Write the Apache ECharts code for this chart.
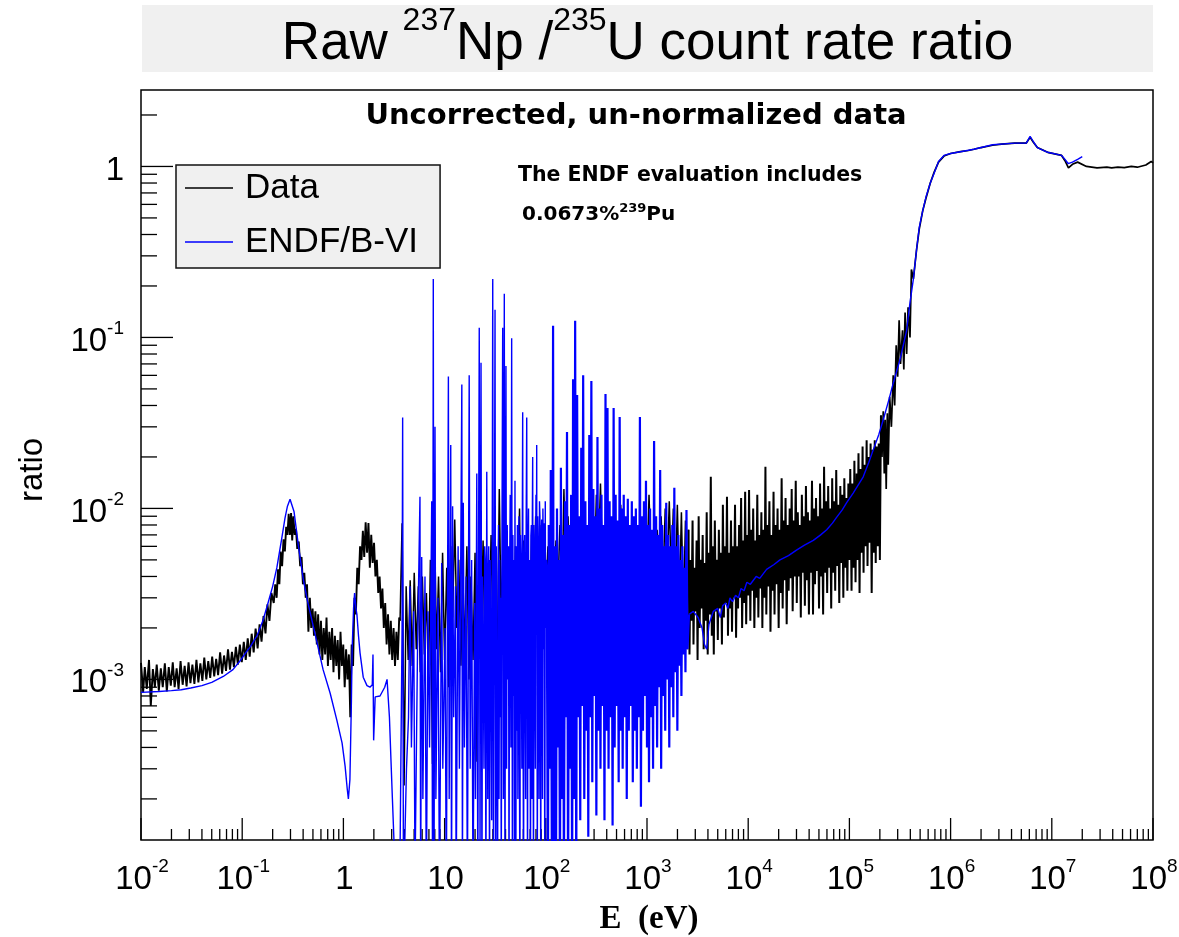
<!DOCTYPE html>
<html><head><meta charset="utf-8">
<script src="https://cdn.jsdelivr.net/npm/echarts@6/dist/echarts.min.js"></script>
<style>html,body{margin:0;padding:0;background:#fff}#c{width:1179px;height:937px}</style>
</head><body><div id="c"></div>
<script>
// ---------------- axis ranges & tick labels ----------------
const X_MIN = 0.01, X_MAX = 1e8, Y_MIN = 1.15e-4, Y_MAX = 2.8;
const xMajorTicks = [1e-2, 1e-1, 1, 10, 100, 1e3, 1e4, 1e5, 1e6, 1e7, 1e8];
const xTickLabels = [['10','-2'],['10','-1'],['1',''],['10',''],['10','2'],['10','3'],['10','4'],['10','5'],['10','6'],['10','7'],['10','8']];
const yMajorTicks = [1e-3, 1e-2, 1e-1, 1];
const yTickLabels = [['10','-3'],['10','-2'],['10','-1'],['1','']];
const minorMantissas = [2,3,4,5,6,7,8,9];

// ---------------- Data (measured ratio) ----------------
const dataThermal = [
[0.0100,1.25e-3],[0.0105,8.4e-4],[0.0109,1.18e-3],[0.0114,8.8e-4],[0.0120,1.30e-3],[0.0125,7.0e-4],[0.0131,1.15e-3],[0.0137,9.0e-4],
[0.0143,1.22e-3],[0.0150,8.6e-4],[0.0157,1.16e-3],[0.0164,9.0e-4],[0.0172,1.24e-3],[0.0180,8.5e-4],[0.0188,1.18e-3],[0.0197,9.2e-4],
[0.0206,1.26e-3],[0.0215,9.0e-4],[0.0225,1.16e-3],[0.0235,8.8e-4],[0.0246,1.28e-3],[0.0258,9.3e-4],[0.0270,1.20e-3],[0.0282,9.1e-4],
[0.0295,1.26e-3],[0.0308,9.5e-4],[0.0322,1.22e-3],[0.0337,9.4e-4],[0.0353,1.30e-3],[0.0369,9.6e-4],[0.0386,1.24e-3],[0.0404,9.8e-4],
[0.0422,1.34e-3],[0.0442,1.00e-3],[0.0462,1.28e-3],[0.0483,1.02e-3],[0.0505,1.36e-3],[0.0529,1.04e-3],[0.0553,1.32e-3],[0.0578,1.06e-3],
[0.0605,1.44e-3],[0.0633,1.08e-3],[0.0662,1.38e-3],[0.0692,1.12e-3],[0.0724,1.50e-3],[0.0757,1.14e-3],[0.0792,1.45e-3],[0.0828,1.18e-3],
[0.0866,1.55e-3],[0.0906,1.22e-3],[0.0948,1.60e-3],[0.0991,1.26e-3],[0.1037,1.66e-3],[0.1084,1.30e-3],[0.1134,1.74e-3],[0.1186,1.36e-3],
[0.1241,1.85e-3],[0.1298,1.44e-3],[0.1357,1.98e-3],[0.1420,1.52e-3],[0.1485,2.10e-3],[0.1553,1.66e-3],[0.1624,2.35e-3],[0.1699,1.86e-3],
[0.1777,2.75e-3],[0.1859,2.20e-3],[0.1944,3.20e-3],[0.205,2.8e-3],[0.212,3.6e-3],[0.219,3.0e-3],[0.226,4.4e-3],[0.233,3.6e-3],
[0.240,5.6e-3],[0.248,4.6e-3],[0.256,6.6e-3],[0.264,5.6e-3],[0.272,7.8e-3],[0.280,7.0e-3],[0.288,9.3e-3],[0.296,7.0e-3],
[0.304,9.4e-3],[0.312,6.5e-3],[0.320,9.0e-3],[0.330,7.0e-3],[0.340,7.6e-3],[0.350,5.8e-3],[0.362,6.4e-3],[0.374,4.6e-3],
[0.386,5.2e-3],[0.398,3.6e-3],[0.411,4.2e-3],[0.424,3.0e-3],[0.437,3.6e-3],[0.451,1.9e-3],[0.466,3.0e-3],[0.481,2.0e-3],
[0.496,2.6e-3],[0.512,1.8e-3],[0.529,2.5e-3],[0.546,1.6e-3],[0.563,2.4e-3],[0.581,1.4e-3],[0.600,2.2e-3],[0.619,1.3e-3],
[0.639,2.0e-3],[0.660,1.4e-3],[0.681,2.3e-3],[0.703,1.2e-3],[0.726,1.9e-3],[0.749,1.3e-3],[0.773,2.0e-3],[0.798,1.1e-3],
[0.824,1.8e-3],[0.851,1.2e-3],[0.878,1.7e-3],[0.907,1.0e-3],[0.936,1.9e-3],[0.966,1.2e-3],[0.997,1.6e-3],[1.030,9.0e-4],
[1.063,1.5e-3],[1.097,1.0e-3],[1.133,1.4e-3],[1.169,6.0e-4],[1.207,1.6e-3],[1.246,1.2e-3],[1.286,3.0e-3],[1.328,2.4e-3],
[1.371,4.5e-3],[1.415,3.6e-3],[1.461,6.0e-3],[1.508,5.0e-3],[1.557,7.4e-3],[1.607,5.2e-3],[1.659,8.3e-3],[1.713,5.5e-3],
[1.768,8.2e-3],[1.825,4.5e-3],[1.884,7.0e-3],[1.945,4.8e-3],[2.008,6.3e-3],[2.073,4.0e-3],[2.140,5.0e-3],[2.209,3.2e-3],
[2.280,4.0e-3],[2.354,2.6e-3],[2.430,3.4e-3],[2.508,2.0e-3],[2.589,2.8e-3],[2.673,1.6e-3],[2.760,2.4e-3],[2.849,1.4e-3],
[2.941,2.2e-3],[3.036,1.3e-3],[3.134,2.0e-3],[3.235,1.2e-3],[3.340,1.9e-3],[3.448,1.3e-3],[3.559,2.3e-3]
];
const dataResonance = [
[3.63,2.2e-3],[3.80,8.2e-3],[3.98,2.4e-4],[4.17,3.5e-3],[4.37,1.3e-3],[4.57,3.8e-3],[4.79,1.2e-3],[5.01,4.2e-3],
[5.25,1.5e-3],[5.50,3.5e-3],[5.75,1.1e-3],[6.03,4.0e-3],[6.31,1.4e-3],[6.61,3.2e-3],[6.92,1.0e-3],[7.24,5.0e-3],
[7.59,3.2e-4],[7.94,8.6e-3],[8.32,1.5e-3],[8.71,4.0e-3],[9.12,1.1e-3],[9.55,5.5e-3],[10.0,1.3e-3],[10.5,4.5e-3],
[11.0,9.0e-4],[11.5,6.0e-3],[12.0,2.3e-3],[12.6,8.6e-3],[13.2,2.0e-3],[13.8,5.0e-3],[14.5,1.2e-3],[15.1,4.5e-3],
[15.8,1.4e-3],[16.6,6.0e-3],[17.4,1.0e-3],[18.2,4.0e-3],[19.1,1.3e-3],[20.0,5.5e-3],[20.9,3.3e-4],[21.9,4.0e-3],
[22.9,1.5e-3],[24.0,6.5e-3],[25.1,1.2e-3],[26.3,4.5e-3],[27.5,1.8e-3],[28.8,7.0e-3],[30.2,1.5e-3],[31.6,5.5e-3],
[33.1,1.1e-3],[34.7,1.3e-2],[36.3,2.0e-3],[38.0,8.0e-3],[39.8,1.6e-3],[41.7,6.0e-3],[43.7,2.0e-3],[45.7,7.5e-3],
[47.9,1.4e-3],[50.1,6.0e-3],[52.5,2.2e-3],[55.0,1.0e-2],[57.5,1.0e-3],[60.3,6.5e-3],[63.1,2.5e-3],[66.1,8.0e-3],
[69.2,2.0e-3],[72.4,7.0e-3],[75.9,2.8e-3],[79.4,9.0e-3],[83.2,2.5e-3],[87.1,8.0e-3],[91.2,3.0e-3],[95.5,7.5e-3],
[100,3.0e-3],[105,6.0e-3],[110,2.5e-3],[115,7.0e-3],[120,3.0e-3],[126,6.5e-3],[132,3.5e-3],[138,8.0e-3],
[145,3.0e-3],[151,1.3e-2],[158,4.0e-3],[166,9.0e-3],[174,3.5e-3],[182,7.0e-3],[191,4.0e-3],[200,6.5e-3],
[209,3.0e-3],[219,7.0e-3],[229,4.0e-3],[240,6.5e-3],[251,3.5e-3],[263,7.0e-3],[275,4.5e-3],[288,6.5e-3],
[302,4.0e-3],[316,1.2e-2],[331,5.0e-3],[347,1.4e-2],[363,4.5e-3],[380,7.0e-3],[398,5.0e-3],[417,6.5e-3],
[437,4.0e-3],[457,7.0e-3],[479,4.5e-3],[501,6.5e-3],[525,5.0e-3],[550,1.05e-2],[575,5.0e-3],[603,7.0e-3],
[631,4.0e-3],[661,6.5e-3],[692,5.0e-3],[724,7.0e-3],[759,4.5e-3],[794,6.5e-3],[832,4.0e-3],[871,7.0e-3],
[912,5.0e-3],[955,8.0e-3],[1000,4.4e-3],[1047,1.2e-2],[1096,5.0e-3],[1148,7.0e-3],[1202,4.0e-3],[1259,7.5e-3],
[1318,5.0e-3],[1380,9.0e-3],[1445,4.0e-3],[1514,1.0e-2],[1585,4.5e-3],[1660,1.1e-2],[1738,4.0e-3],[1820,1.0e-2],
[1905,3.5e-3],[1995,1.05e-2],[2089,3.0e-3],[2188,9.5e-3],[2291,2.5e-3],[2399,8.5e-3],[2512,1.5e-3]
];
const dataKeV = [
[2.57e3,7.5e-3],[2.63e3,1.4e-3],[2.69e3,5.0e-3],[2.75e3,2.2e-3],[2.82e3,8.5e-3],[2.88e3,1.6e-3],[2.95e3,4.5e-3],[3.02e3,2.5e-3],
[3.09e3,6.5e-3],[3.16e3,1.3e-3],[3.24e3,9.0e-3],[3.31e3,2.0e-3],[3.39e3,5.0e-3],[3.47e3,2.6e-3],[3.55e3,7.0e-3],[3.63e3,1.5e-3],
[3.72e3,4.8e-3],[3.80e3,2.2e-3],[3.89e3,9.5e-3],[3.98e3,1.4e-3],[4.07e3,5.5e-3],[4.17e3,2.4e-3],[4.27e3,1.53e-2],[4.37e3,1.8e-3],
[4.47e3,6.0e-3],[4.57e3,1.4e-3],[4.68e3,8.5e-3],[4.79e3,2.5e-3],[4.90e3,5.0e-3],[5.01e3,1.7e-3],[5.13e3,7.5e-3],[5.25e3,2.6e-3],
[5.37e3,5.5e-3],[5.50e3,1.6e-3],[5.62e3,1.05e-2],[5.75e3,2.3e-3],[5.89e3,6.0e-3],[6.03e3,2.8e-3],[6.17e3,1.17e-2],[6.31e3,1.8e-3],
[6.46e3,5.5e-3],[6.61e3,2.6e-3],[6.76e3,8.5e-3],[6.92e3,1.9e-3],[7.08e3,6.0e-3],[7.24e3,3.0e-3],[7.41e3,1.05e-2],[7.59e3,1.75e-3],
[7.76e3,6.0e-3],[7.94e3,2.6e-3],[8.13e3,8.0e-3],[8.32e3,3.0e-3],[8.51e3,1.15e-2],[8.71e3,2.0e-3],[8.91e3,6.5e-3],[9.12e3,2.8e-3],
[9.33e3,1.25e-2],[9.55e3,2.1e-3],[9.77e3,7.0e-3],[1.00e4,3.1e-3],[1.02e4,1.28e-2],[1.05e4,2.2e-3],[1.07e4,7.5e-3],[1.10e4,3.3e-3],
[1.12e4,1.0e-2],[1.15e4,2.0e-3],[1.18e4,6.5e-3],[1.20e4,3.0e-3],[1.23e4,1.2e-2],[1.26e4,2.3e-3],[1.29e4,7.0e-3],[1.32e4,3.4e-3],
[1.35e4,9.5e-3],[1.38e4,2.0e-3],[1.41e4,7.5e-3],[1.45e4,3.0e-3],[1.48e4,1.75e-2],[1.51e4,2.4e-3],[1.55e4,8.0e-3],[1.58e4,3.5e-3],
[1.62e4,1.1e-2],[1.66e4,1.9e-3],[1.70e4,7.0e-3],[1.74e4,3.3e-3],[1.78e4,1.25e-2],[1.82e4,2.4e-3],[1.86e4,8.0e-3],[1.91e4,3.6e-3],
[1.95e4,1.0e-2],[2.00e4,2.0e-3],[2.04e4,7.5e-3],[2.09e4,3.2e-3],[2.14e4,1.5e-2],[2.19e4,2.6e-3],[2.24e4,8.5e-3],[2.29e4,3.8e-3],
[2.34e4,1.15e-2],[2.40e4,2.1e-3],[2.46e4,8.0e-3],[2.51e4,3.3e-3],[2.57e4,1.0e-2],[2.63e4,3.9e-3],[2.69e4,1.3e-2],[2.75e4,2.5e-3],
[2.82e4,8.5e-3],[2.88e4,4.0e-3],[2.95e4,1.45e-2],[3.02e4,2.8e-3],[3.09e4,9.5e-3],[3.16e4,4.0e-3],[3.24e4,8.0e-3],[3.31e4,2.3e-3],
[3.39e4,1.2e-2],[3.47e4,4.2e-3],[3.55e4,9.0e-3],[3.63e4,2.7e-3],[3.72e4,1.35e-2],[3.80e4,3.8e-3],[3.89e4,9.5e-3],[3.98e4,2.4e-3],
[4.07e4,8.5e-3],[4.17e4,4.2e-3],[4.27e4,1.45e-2],[4.37e4,2.4e-3],[4.47e4,1.0e-2],[4.57e4,3.6e-3],[4.68e4,1.15e-2],[4.79e4,4.3e-3],
[4.90e4,9.0e-3],[5.01e4,2.6e-3],[5.13e4,1.4e-2],[5.25e4,4.0e-3],[5.37e4,1.0e-2],[5.50e4,2.4e-3],[5.62e4,1.75e-2],[5.75e4,4.2e-3],
[5.89e4,1.1e-2],[6.03e4,3.2e-3],[6.17e4,1.35e-2],[6.31e4,4.5e-3],[6.46e4,1.0e-2],[6.61e4,2.6e-3],[6.76e4,1.5e-2],[6.92e4,4.2e-3],
[7.08e4,1.1e-2],[7.24e4,3.3e-3],[7.41e4,1.68e-2],[7.59e4,4.6e-3],[7.76e4,1.05e-2],[7.94e4,2.8e-3],[8.13e4,1.35e-2],[8.32e4,4.8e-3],
[8.51e4,1.2e-2],[8.71e4,3.0e-3],[8.91e4,1.5e-2],[9.12e4,4.5e-3],[9.33e4,1.15e-2],[9.55e4,3.3e-3],[9.77e4,1.4e-2],[1.00e5,5.0e-3],
[1.02e5,1.7e-2],[1.05e5,3.3e-3],[1.07e5,1.4e-2],[1.10e5,4.5e-3],[1.12e5,1.9e-2],[1.15e5,3.7e-3],[1.18e5,1.6e-2],[1.20e5,5.0e-3],
[1.23e5,2.1e-2],[1.26e5,3.2e-3],[1.29e5,1.7e-2],[1.32e5,5.5e-3],[1.35e5,2.3e-2],[1.38e5,4.2e-3],[1.41e5,1.8e-2],[1.45e5,6.0e-3],
[1.48e5,2.5e-2],[1.51e5,4.6e-3],[1.55e5,2.0e-2],[1.58e5,6.3e-3],[1.62e5,2.4e-2],[1.66e5,3.2e-3],[1.70e5,2.2e-2],[1.74e5,5.5e-3],
[1.78e5,2.5e-2],[1.82e5,4.8e-3],[1.86e5,2.3e-2],[1.91e5,6.0e-3],[1.95e5,2.4e-2],[2.00e5,5.0e-3]
];
const dataFast = [
[2.05e5,0.035],[2.10e5,0.020],[2.16e5,0.037],[2.21e5,0.016],[2.26e5,0.033],[2.31e5,0.013],[2.37e5,0.036],[2.42e5,0.018],
[2.50e5,0.045],[2.60e5,0.030],[2.71e5,0.060],[2.80e5,0.040],[2.90e5,0.090],[3.00e5,0.059],[3.10e5,0.126],[3.20e5,0.070],
[3.35e5,0.110],[3.45e5,0.065],[3.55e5,0.140],[3.68e5,0.080],[3.80e5,0.150],[3.97e5,0.100],[4.10e5,0.250],[4.29e5,0.220],
[4.62e5,0.33],[4.90e5,0.43],[5.30e5,0.55],[5.70e5,0.65],[6.30e5,0.80],[6.90e5,0.93],[7.60e5,1.06],[8.60e5,1.15],
[1.0e6,1.19],[1.25e6,1.22],[1.5e6,1.24],[1.7e6,1.26],[2.0e6,1.29],[2.6e6,1.33],[3.2e6,1.35],[4.3e6,1.37],
[5.6e6,1.37],[6.1e6,1.48],[6.6e6,1.38],[7.2e6,1.29],[9.1e6,1.21],[1.25e7,1.16],[1.35e7,1.08],[1.46e7,0.98],
[1.6e7,1.03],[1.8e7,1.06],[2.2e7,1.00],[2.8e7,0.98],[3.5e7,0.99],[3.9e7,0.98],[4.5e7,0.99],[5.2e7,0.985],
[6.1e7,1.00],[7.0e7,0.99],[8.5e7,1.02],[9.6e7,1.07],[1.0e8,1.05]
];

// ---------------- ENDF/B-VI ----------------
const endfThermal = [
[0.0100,8.4e-4],[0.0150,8.5e-4],[0.0200,8.6e-4],[0.0250,8.7e-4],[0.0310,8.9e-4],[0.0400,9.2e-4],[0.0500,9.6e-4],[0.0650,1.04e-3],
[0.0810,1.14e-3],[0.0950,1.28e-3],[0.1100,1.45e-3],[0.1200,1.55e-3],[0.1400,1.80e-3],[0.1600,2.2e-3],[0.1800,2.8e-3],[0.2000,3.5e-3],
[0.2200,4.5e-3],[0.2450,6.6e-3],[0.2650,8.8e-3],[0.2800,1.03e-2],[0.2970,1.13e-2],[0.3100,1.10e-2],[0.3250,9.6e-3],[0.3400,7.8e-3],
[0.3600,6.0e-3],[0.4000,3.9e-3],[0.4400,2.9e-3],[0.4700,2.45e-3],[0.5500,1.63e-3],[0.6300,1.14e-3],[0.7400,8.3e-4],[0.8600,5.8e-4],
[0.9700,4.25e-4],[1.0400,3.1e-4],[1.0900,2.3e-4],[1.1200,2.0e-4],[1.1600,2.6e-4],[1.2000,7.5e-4],[1.2200,1.5e-3],[1.2600,2.6e-3],
[1.2900,3.2e-3],[1.3300,2.6e-3],[1.3600,2.4e-3],[1.4100,1.8e-3],[1.4600,1.43e-3],[1.5700,1.03e-3],[1.7100,9.2e-4],[1.8300,9.0e-4],
[1.9300,9.3e-4],[1.9600,1.4e-3],[1.9900,4.4e-4],[2.0600,7.9e-4],[2.3000,8.0e-4],[2.5600,9.0e-4],[2.7000,1.0e-3],[2.8500,6.0e-4],
[2.9500,3.4e-4],[3.0500,2.0e-4],[3.1500,1.2e-4],[3.2500,6e-5]
];
const endfForest = [
[3.62,8e-5],[3.80,2e-3],[3.85,0.034],[3.92,5e-5],[4.20,3e-4],[4.40,6e-4],[4.55,3.5e-3],[4.70,4e-4],
[4.95,2.5e-3],[5.10,7e-5],[5.40,1.5e-3],[5.71,0.0117],[5.80,5e-5],[5.94,5.2e-3],[6.10,2e-4],[6.40,4e-3],
[6.60,5e-5],[6.85,2.5e-3],[7.10,4e-4],[7.46,0.011],[7.60,5e-5],[7.73,0.22],[7.85,4e-5],[8.04,0.030],
[8.20,2e-4],[8.60,3e-3],[8.90,5e-5],[9.36,4.8e-3],[9.60,3e-4],[10.1,2e-3],[10.4,5e-5],[10.9,0.059],
[11.1,2e-4],[11.5,0.0235],[11.7,5e-5],[12.0,0.0103],[12.3,6e-4],[12.8,3.5e-3],[13.0,5e-5],[13.6,6e-3],
[14.0,3e-4],[14.8,0.053],[15.0,5e-5],[15.3,0.0108],[15.7,4e-4],[16.3,4e-3],[16.8,5e-5],[17.5,0.06],
[17.9,3e-4],[18.5,5e-3],[19.1,5e-5],[19.8,2.8e-3],[20.2,2e-4],[20.8,0.016],[21.3,5e-5],[21.6,3e-3],
[22.0,0.114],[22.4,1e-4],[22.9,0.071],[23.4,5e-5],[23.7,4e-3],[24.0,2e-3],[24.5,3e-4],[24.9,6e-3],
[25.2,5e-3],[25.6,5e-5],[26.1,0.0164],[26.7,2e-4],[27.0,4e-3],[27.3,6e-3],[27.8,5e-5],[28.2,5e-3],
[28.5,3e-3],[29.2,1.5e-4],[29.9,0.22],[30.4,5e-5],[31.0,3e-3],[31.5,0.145],[32.0,1e-4],[32.4,6e-3],
[32.8,8e-4],[33.4,5e-5],[33.8,4e-3],[34.1,8e-3],[34.5,2e-4],[35.0,5e-3],[35.5,6e-4],[35.9,3e-3],
[36.3,5e-5],[36.9,7e-3],[37.5,0.114],[38.1,2e-4],[38.5,4e-3],[38.9,0.18],[39.5,5e-5],[40.0,5e-3],
[40.4,0.068],[41.0,3e-4],[41.6,8e-3],[42.2,1e-3],[42.8,6e-3],[43.3,5e-5],[43.9,4e-3],[44.5,0.012],
[45.2,4e-4],[45.6,6e-3],[46.0,0.099],[46.8,5e-5],[47.3,7e-3],[47.8,8e-4],[48.5,5e-3],[49.0,1e-4],
[49.6,0.0145],[50.1,3e-4],[50.6,5e-5],[51.2,6e-3],[51.8,5e-4],[52.4,8e-3],[53.0,2e-4],[53.6,5e-3],
[54.3,9e-3],[54.9,3e-4],[55.5,5e-5],[56.2,7e-3],[57.0,4.5e-3],[57.5,1e-3],[58.0,3e-4],[58.5,6e-3],
[59.1,0.0365],[59.7,4e-4],[60.3,5e-5],[61.0,5e-3],[61.8,7e-3],[62.5,6e-4],[63.2,2e-4],[64.0,9e-3],
[64.8,0.034],[65.4,1e-3],[66.0,5e-5],[66.7,6e-3],[67.5,1e-2],[68.0,8e-4],[68.4,3e-4],[69.3,5e-3],
[69.9,1.2e-3],[70.6,5e-5],[71.3,7e-3],[72.0,8e-3],[72.5,5e-4],[73.0,2e-4],[73.6,9e-3],[74.2,0.02],
[74.9,6e-4],[75.6,5e-5],[76.4,8e-3],[77.2,6e-3],[78.0,1e-3],[78.8,3e-4],[79.4,7e-3],[80.0,1.2e-2],
[80.6,2e-3],[81.3,0.0235],[81.9,8e-4],[82.5,5e-5],[83.2,9e-3],[84.0,6e-3],[84.8,1.5e-3],[85.7,2e-4],
[86.6,1.1e-2],[87.5,9e-3],[88.3,1e-3],[89.2,5e-5],[90.1,7e-3],[91.1,8.6e-3],[91.9,1.2e-3],[92.8,2e-4],
[93.6,1.0e-2],[94.5,6e-3],[95.2,1.5e-3],[96.0,8.2e-3],[96.9,6e-4],[97.8,5e-5],[98.8,1.1e-2],[99.6,2e-3],
[100.5,5e-3]
];
const endfMass = [
[102,4.5e-3],[105,5e-5],[107,8e-3],[110,3e-4],[112,0.0168],[115,5e-5],[118,0.117],[120,1e-4],
[123,6e-3],[126,5e-5],[129,1.0e-2],[132,4e-4],[135,5e-3],[138,5e-5],[141,0.0173],[145,2e-4],
[148,7e-3],[151,5e-5],[155,1.1e-2],[158,6e-4],[162,0.028],[166,5e-5],[170,8e-3],[174,3e-4],
[178,1.2e-2],[182,5e-5],[186,0.057],[191,2e-4],[195,0.125],[200,5e-5],[204,0.046],[209,6e-4],
[214,9e-3],[219,1.5e-4],[224,0.0226],[229,7e-4],[234,0.060],[240,2e-4],[246,1.1e-2],[251,5e-4],
[257,8e-3],[263,1.2e-4],[269,0.0269],[275,6e-4],[282,0.0557],[288,2.5e-4],[295,1.3e-2],[302,8e-4],
[309,9e-3],[316,1.6e-4],[324,0.0262],[331,5e-4],[339,1.0e-2],[347,3e-4],[355,1.2e-2],[363,7e-4],
[372,8e-3],[380,1.5e-4],[389,0.0467],[398,5e-4],[407,0.0387],[417,3e-4],[427,1.1e-2],[437,6e-4],
[447,9e-3],[457,1.4e-4],[468,0.0387],[479,4e-4],[490,1.2e-2],[501,7e-4],[513,8.5e-3],[525,2.5e-4],
[537,0.0343],[550,5e-4],[562,1.0e-2],[575,3e-4],[589,1.2e-2],[603,6e-4],[617,9e-3],[631,2e-4],
[646,0.0114],[661,5e-4],[676,8e-3],[692,7e-4],[708,1.1e-2],[724,2.5e-4],[741,9e-3],[759,5e-4],
[776,1.0e-2],[794,3e-4],[813,8e-3],[832,6e-4],[851,0.0343],[871,1.8e-4],[891,9e-3],[912,5e-4],
[933,1.1e-2],[955,8e-4],[977,0.0145],[1000,4e-4],[1023,8e-3],[1047,2.5e-4],[1072,1.0e-2],[1096,6e-4],
[1122,7.5e-3],[1148,3e-4],[1175,0.0248],[1202,7e-4],[1230,9e-3],[1259,4e-4],[1288,7e-3],[1318,9e-4],
[1349,0.0168],[1380,3e-4],[1413,8e-3],[1445,8e-4],[1479,6e-3],[1514,5e-4],[1549,0.0108],[1585,1.0e-3],
[1622,7e-3],[1660,4e-4],[1698,6e-3],[1738,9e-4],[1778,8e-3],[1820,6e-4],[1862,0.0132],[1905,1.1e-3],
[1950,6e-3],[1995,5e-4],[2042,7e-3],[2089,1.2e-3],[2138,5e-3],[2188,8e-4],[2239,6e-3],[2291,1.4e-3],
[2344,4.5e-3],[2399,1.1e-3],[2455,9.8e-3],[2512,1.5e-3]
];
const endfFast = [
[2.6e3,2.4e-3],[2.87e3,2.5e-3],[3.2e3,2.3e-3],[3.5e3,2.0e-3],[3.7e3,1.6e-3],[3.89e3,1.5e-3],[4.1e3,2.1e-3],[4.52e3,2.5e-3],
[5.0e3,2.6e-3],[5.3e3,2.3e-3],[5.6e3,2.7e-3],[6.0e3,2.8e-3],[6.3e3,2.6e-3],[6.6e3,3.0e-3],[7.0e3,2.85e-3],[7.5e3,3.1e-3],
[8.0e3,3.0e-3],[8.5e3,3.4e-3],[9.1e3,3.3e-3],[9.7e3,3.7e-3],[1.05e4,3.6e-3],[1.2e4,4.0e-3],[1.3e4,3.9e-3],[1.52e4,4.4e-3],
[1.8e4,4.7e-3],[2.06e4,5.0e-3],[2.5e4,5.3e-3],[3.0e4,5.7e-3],[3.6e4,6.1e-3],[4.4e4,6.5e-3],[5.2e4,7.0e-3],[5.97e4,7.5e-3],
[6.8e4,8.2e-3],[7.5e4,8.9e-3],[8.5e4,9.8e-3],[9.4e4,1.08e-2],[1.09e5,1.23e-2],[1.25e5,1.4e-2],[1.37e5,1.53e-2],[1.55e5,1.85e-2],
[1.72e5,2.2e-2],[1.95e5,2.7e-2],[2.16e5,3.3e-2],[2.45e5,4.3e-2],[2.71e5,5.4e-2],[3.16e5,7.4e-2],[3.68e5,0.11],[3.97e5,0.16],
[4.29e5,0.22],[4.62e5,0.33],[4.9e5,0.44],[5.3e5,0.55],[5.7e5,0.66],[6.3e5,0.80],[6.9e5,0.92],[7.6e5,1.07],
[8.6e5,1.16],[1.0e6,1.19],[1.25e6,1.22],[1.7e6,1.26],[2.6e6,1.34],[4.3e6,1.37],[5.6e6,1.37],[6.1e6,1.50],
[6.6e6,1.39],[7.2e6,1.29],[9.1e6,1.21],[1.25e7,1.16],[1.35e7,1.10],[1.45e7,1.04],[1.6e7,1.06],[1.8e7,1.10],[2.0e7,1.14]
];

// ---------------- assembly (each piece joined to the first point of the next) ----------------
const dataPartA = dataThermal.concat([dataResonance[0]]);
const dataPartB = dataResonance.concat([dataKeV[0]]);
const dataPartC = dataKeV.concat([dataFast[0]]);
const dataPartD = dataFast;
const endfLow = endfThermal.concat(endfForest);
const endfDense = [endfForest[endfForest.length - 1]].concat(endfMass, [endfFast[0]]);

const xMinorTicks = [], yMinorTicks = [];
for (let d = -2; d < 8; d++) minorMantissas.forEach(m => xMinorTicks.push(m * Math.pow(10, d)));
for (let d = -4; d < 1; d++) minorMantissas.forEach(m => { const v = m * Math.pow(10, d); if (v > Y_MIN && v < Y_MAX) yMinorTicks.push(v); });

const SANS = 'Liberation Sans, Arial, sans-serif';
const tickRich = {
  b: { fontSize: 33, fontFamily: SANS, lineHeight: 45, fill: '#000', color: '#000' },
  s: { fontSize: 19, fontFamily: SANS, lineHeight: 19, verticalAlign: 'top', fill: '#000', color: '#000' }
};
function lab(p) { return '{b|' + p[0] + '}' + (p[1] ? '{s|' + p[1] + '}' : ''); }

function renderAxes(params, api) {
  const ch = [];
  const ts = { stroke: '#000', lineWidth: 1.3 };
  xMajorTicks.forEach((v, i) => {
    const p = api.coord([v, Y_MIN]);
    ch.push({ type: 'line', shape: { x1: p[0], y1: p[1], x2: p[0], y2: p[1] - 22 }, style: ts });
    ch.push({ type: 'text', x: p[0] + 1, y: p[1] + 40, style: { text: lab(xTickLabels[i]), rich: tickRich, align: 'center', verticalAlign: 'middle', textAlign: 'center', textVerticalAlign: 'middle' } });
  });
  xMinorTicks.forEach(v => {
    if (v <= X_MIN || v >= X_MAX) return;
    const p = api.coord([v, Y_MIN]);
    ch.push({ type: 'line', shape: { x1: p[0], y1: p[1], x2: p[0], y2: p[1] - 11 }, style: ts });
  });
  yMajorTicks.forEach((v, i) => {
    const p = api.coord([X_MIN, v]);
    ch.push({ type: 'line', shape: { x1: p[0], y1: p[1], x2: p[0] + 32, y2: p[1] }, style: ts });
    ch.push({ type: 'text', x: 124, y: p[1] + 4, style: { text: lab(yTickLabels[i]), rich: tickRich, align: 'right', verticalAlign: 'middle', textAlign: 'right', textVerticalAlign: 'middle' } });
  });
  yMinorTicks.forEach(v => {
    const p = api.coord([X_MIN, v]);
    ch.push({ type: 'line', shape: { x1: p[0], y1: p[1], x2: p[0] + 16, y2: p[1] }, style: ts });
  });
  return { type: 'group', children: ch };
}

const BLUE = '#0000ff';
function lineSeries(name, data, color, width, z) {
  return { type: 'line', name: name, data: data, symbol: 'none', showSymbol: false, clip: true, z: z,
    lineStyle: { color: color, width: width }, itemStyle: { color: color } };
}
const chart = echarts.init(document.getElementById('c'), null, { renderer: 'canvas', width: 1179, height: 937 });
chart.setOption({
  animation: false,
  backgroundColor: '#fff',
  grid: { left: 141, right: 26, top: 90, bottom: 97, show: true, borderColor: '#000', borderWidth: 1.5, backgroundColor: 'transparent' },
  xAxis: { type: 'log', logBase: 10, min: X_MIN, max: X_MAX, axisLine: { show: false }, axisTick: { show: false }, axisLabel: { show: false }, splitLine: { show: false } },
  yAxis: { type: 'log', logBase: 10, min: Y_MIN, max: Y_MAX, axisLine: { show: false }, axisTick: { show: false }, axisLabel: { show: false }, splitLine: { show: false } },
  legend: {
    orient: 'vertical', left: 176, top: 165, itemWidth: 48, itemHeight: 1.5, itemGap: 14, icon: 'rect',
    padding: [3, 22, 6, 9], backgroundColor: '#f0f0f0', borderColor: '#111', borderWidth: 1.5, borderRadius: 0,
    textStyle: { fontSize: 35, fontFamily: SANS, color: '#000', lineHeight: 40, padding: [0, 0, 0, 7] },
    data: ['Data', 'ENDF/B-VI']
  },
  graphic: [
    { type: 'rect', shape: { x: 142, y: 5, width: 1011, height: 67 }, style: { fill: '#f0f0f0' }, silent: true },
    { type: 'text', x: 647.5, y: 44, silent: true, style: {
      text: '{b|Raw }{s|237}{b|Np /}{s|235}{b|U count rate ratio}',
      rich: { b: { fontSize: 53, fontFamily: SANS, lineHeight: 77, fill: '#000' }, s: { fontSize: 32, fontFamily: SANS, lineHeight: 32, verticalAlign: 'top', fill: '#000' } },
      align: 'center', verticalAlign: 'middle', textAlign: 'center', textVerticalAlign: 'middle' } },
    { type: 'text', x: 636, y: 116, silent: true, style: { text: 'Uncorrected, un-normalized data', fontSize: 29, fontWeight: 'bold', fontFamily: 'DejaVu Sans', fill: '#000', align: 'center', verticalAlign: 'middle', textAlign: 'center', textVerticalAlign: 'middle' } },
    { type: 'text', x: 518, y: 176, silent: true, style: { text: 'The ENDF evaluation includes', fontSize: 20.5, fontWeight: 'bold', fontFamily: 'DejaVu Sans', fill: '#000', align: 'left', verticalAlign: 'middle', textAlign: 'left', textVerticalAlign: 'middle' } },
    { type: 'text', x: 522, y: 214.5, silent: true, style: {
      text: '{b|0.0673%}{s|239}{b|Pu}',
      rich: { b: { fontSize: 20, fontWeight: 'bold', fontFamily: 'DejaVu Sans', lineHeight: 24, fill: '#000' }, s: { fontSize: 13, fontWeight: 'bold', fontFamily: 'DejaVu Sans', lineHeight: 20, verticalAlign: 'top', fill: '#000' } },
      align: 'left', verticalAlign: 'middle', textAlign: 'left', textVerticalAlign: 'middle' } },
    { type: 'text', x: 33, y: 470, rotation: Math.PI / 2, silent: true, style: { text: 'ratio', fontSize: 33, fontFamily: SANS, fill: '#000', align: 'center', verticalAlign: 'middle', textAlign: 'center', textVerticalAlign: 'middle' } },
    { type: 'text', x: 649, y: 919, silent: true, style: { text: 'E  (eV)', fontSize: 33, fontWeight: 'bold', fontFamily: 'Liberation Serif, Times New Roman, serif', fill: '#000', align: 'center', verticalAlign: 'middle', textAlign: 'center', textVerticalAlign: 'middle' } }
  ],
  series: [
    { type: 'custom', name: 'axes', coordinateSystem: 'cartesian2d', data: [[1, 0.01]], renderItem: renderAxes, silent: true, clip: false, z: 1 },
    lineSeries('Data', dataPartA, '#000', 1.9, 2),
    lineSeries('Data', dataPartB, '#000', 1.5, 2),
    lineSeries('Data', dataPartC, '#000', 2.0, 2),
    lineSeries('Data', dataPartD, '#000', 1.7, 2),
    lineSeries('ENDF/B-VI', endfLow, BLUE, 1.4, 3),
    lineSeries('ENDF/B-VI', endfDense, BLUE, 2.2, 3),
    lineSeries('ENDF/B-VI', endfFast, BLUE, 1.4, 3)
  ]
});
</script>
</body></html>
